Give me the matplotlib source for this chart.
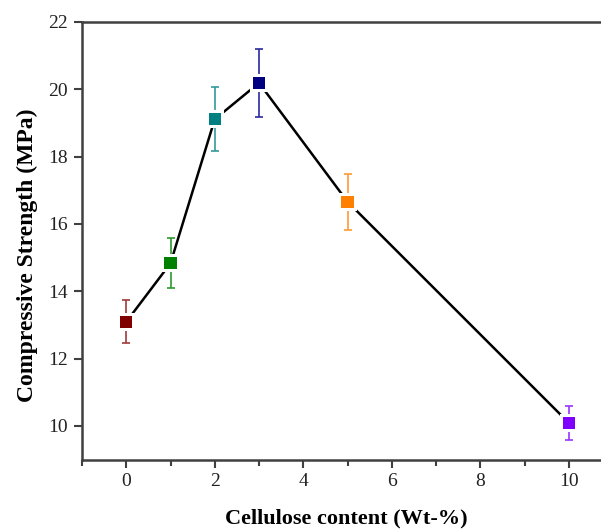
import matplotlib
matplotlib.use("Agg")
import matplotlib.pyplot as plt
from matplotlib.ticker import MultipleLocator

plt.rcParams['font.family'] = ['Liberation Serif', 'DejaVu Serif']

content = [0, 1, 2, 3, 5, 10]
strength = [13.09, 14.83, 19.11, 20.19, 16.66, 10.09]
errors = [0.64, 0.74, 0.95, 1.02, 0.83, 0.50]
colors = ['#800000', '#008000', '#008080', '#000080', '#FF8000', '#8000FF']
bar_colors = ['#A33A3A', '#2E9A2E', '#339999', '#2A2AA0', '#FF9933', '#9933FF']

fig = plt.figure(figsize=(6.01, 5.29), dpi=100)
ax = fig.add_axes([82/601, 69.5/529, (613-82)/601, (459.5-22)/529])

ax.plot(content, strength, color='black', lw=1.8, zorder=1)
for x, y, e, c in zip(content, strength, errors, bar_colors):
    ax.errorbar([x], [y], yerr=[e], fmt='none', ecolor=c, elinewidth=1.2,
                capsize=3.2, capthick=1.2, zorder=2)
ax.scatter(content, strength, marker='s', s=175, c='white', zorder=3, linewidths=0)
ax.scatter(content, strength, marker='s', s=76, c=colors, zorder=4, linewidths=0)

ax.set_xlim(-1, 11)
ax.set_ylim(9, 22)
ax.xaxis.set_major_locator(MultipleLocator(2))
ax.xaxis.set_minor_locator(MultipleLocator(1))
ax.yaxis.set_major_locator(MultipleLocator(2))

ax.spines['right'].set_visible(False)
for s in ['left', 'bottom', 'top']:
    ax.spines[s].set_linewidth(1.8)
    ax.spines[s].set_color('#404040')

ax.tick_params(axis='both', which='major', direction='out', length=6, width=1.5,
               color='#404040', labelsize=14, labelcolor='#222222', pad=4)
ax.tick_params(axis='x', which='minor', direction='out', length=4, width=1.5, color='#404040')

ax.set_xlabel('Cellulose content (Wt-%)', fontsize=16, fontweight='bold', va='top')
ax.set_ylabel('Compressive Strength (MPa)', fontsize=17, fontweight='bold')
ax.xaxis.set_label_coords((346.5-82)/531, (459.5-508)/437.5)
ax.yaxis.set_label_coords((38-82)/531, (459.5-255)/437.5)

fig.savefig('out.png', dpi=100)
